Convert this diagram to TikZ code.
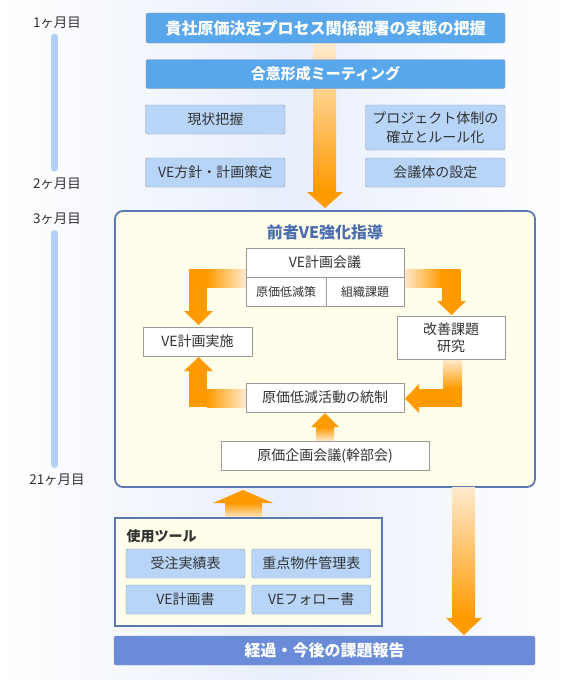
\documentclass[tikz,border=0pt]{standalone}
\usepackage{fontspec}
\setmainfont{Noto Sans CJK JP}
\usepackage{tikz}

\definecolor{bgblue}{HTML}{E8EEFB}
\definecolor{barblue}{HTML}{58A6EC}
\definecolor{reportblue}{HTML}{6A8CD8}
\definecolor{bargray}{HTML}{8E9BAE}
\definecolor{boxblue}{HTML}{B8D5F8}
\definecolor{timeblue}{HTML}{B4D0F6}
\definecolor{panelblue}{HTML}{5B78B0}
\definecolor{panelfill}{HTML}{FFFEEA}
\definecolor{titleblue}{HTML}{4D6EAE}
\definecolor{textgray}{HTML}{333333}
\definecolor{linegray}{HTML}{9A9A9A}
\definecolor{orangemain}{HTML}{FF9A00}
\definecolor{orangepale}{HTML}{FFEBCF}

\begin{document}
\begin{tikzpicture}[x=1pt,y=-1pt,
	barnode/.style={draw=bargray,fill=barblue,rounded corners=2pt,inner sep=0pt,text=white,font=\bfseries\fontsize{16pt}{19pt}\selectfont},
	stepnode/.style={draw=bargray,fill=boxblue,rounded corners=2pt,inner sep=0pt,text=textgray,align=center,font=\fontsize{14pt}{19pt}\selectfont,minimum width=139.5pt},
	cellnode/.style={draw=linegray,fill=white,inner sep=0pt,text=textgray,align=center,font=\fontsize{14pt}{17pt}\selectfont},
	panelnode/.style={draw=panelblue,line width=1.8pt,fill=panelfill,inner sep=0pt},
	month/.style={text=textgray,font=\fontsize{13.5pt}{16pt}\selectfont},
	timebar/.style={timeblue,line width=7pt,line cap=round}]

	%Background
	\shade[left color=white,right color=white,middle color=bgblue] (0,0) rectangle (567,680);
	\useasboundingbox (0,0) rectangle (567,680);

	%Timeline
	\draw[timebar] (54.7,37) -- (54.7,168);
	\draw[timebar] (54.7,233.5) -- (54.7,464.5);
	\node[month] (m1)  at (57,23)  {1ヶ月目};
	\node[month] (m2)  at (57,184) {2ヶ月目};
	\node[month] (m3)  at (57,219) {3ヶ月目};
	\node[month] (m21) at (57,480) {21ヶ月目};

	%Main arrow
	\shade[top color=orangepale,bottom color=orangemain] (313.5,43) rectangle (336,192);
	\fill[orangemain] (307,192) -- (343,192) -- (325,208) -- cycle;

	%Nodes
	\node[barnode,minimum width=359pt,minimum height=30pt] (survey) at (325.5,28) {貴社原価決定プロセス関係部署の実態の把握};
	\node[barnode,minimum width=359pt,minimum height=29pt,font=\bfseries\fontsize{15pt}{18pt}\selectfont] (meeting) at (325.5,74) {合意形成ミーティング};
	\node[stepnode,minimum height=29pt] (current) at (215.25,119.5) {現状把握};
	\node[stepnode,minimum height=29pt] (policy)  at (215.25,172.5) {VE方針・計画策定};
	\node[stepnode,minimum height=45pt] (project) at (435.25,127.5) {プロジェクト体制の\\確立とルール化};
	\node[stepnode,minimum height=29pt] (council) at (435.25,172.5) {会議体の設定};

	%Guidance panel
	\node[panelnode,rounded corners=8pt,minimum width=420pt,minimum height=276pt] (guide) at (325,349) {};
	\node[text=titleblue,font=\bfseries\fontsize{16pt}{19pt}\selectfont] (guidetitle) at (325,232) {前者VE強化指導};

	%Cycle arrows
	\shade[left color=orangemain,right color=orangepale] (207,269) rectangle (246,287);
	\fill[orangemain] (189,269) rectangle (207,311);
	\fill[orangemain] (184,311) -- (213,311) -- (198.5,325) -- cycle;

	\shade[left color=orangepale,right color=orangemain] (404,269) rectangle (442,287);
	\fill[orangemain] (442,269) rectangle (461,301);
	\fill[orangemain] (437,301) -- (466,301) -- (451.5,315) -- cycle;

	\shade[top color=orangepale,bottom color=orangemain] (443,359) rectangle (462,389);
	\fill[orangemain] (419,389) rectangle (462,407);
	\fill[orangemain] (419,384) -- (419,413) -- (405,398.5) -- cycle;

	\shade[left color=orangemain,right color=orangepale] (207,389) rectangle (246,407);
	\fill[orangemain] (189,371) rectangle (207,407);
	\fill[orangemain] (184,371) -- (213,371) -- (198.5,357) -- cycle;

	\shade[top color=orangemain,bottom color=orangepale] (316,427) rectangle (334,441);
	\fill[orangemain] (311,427) -- (339,427) -- (325,413) -- cycle;

	%Cycle boxes
	\node[cellnode,minimum width=158pt,minimum height=29pt] (plan) at (325,262.5) {VE計画会議};
	\node[cellnode,minimum width=80pt,minimum height=29pt,font=\fontsize{12pt}{14pt}\selectfont] (cost) at (286,291.5) {原価低減策};
	\node[cellnode,minimum width=78pt,minimum height=29pt,font=\fontsize{12pt}{14pt}\selectfont] (org) at (365,291.5) {組織課題};
	\node[cellnode,minimum width=109pt,minimum height=29pt] (execute) at (197.5,341.5) {VE計画実施};
	\node[cellnode,minimum width=108pt,minimum height=43pt] (study) at (451,337.5) {改善課題\\研究};
	\node[cellnode,minimum width=158pt,minimum height=29pt] (control) at (325,397.5) {原価低減活動の統制};
	\node[cellnode,minimum width=208pt,minimum height=29pt] (board) at (325,455.5) {原価企画会議(幹部会)};

	%Lower arrows
	\shade[top color=orangemain,bottom color=orangepale] (225,503) rectangle (262,518);
	\fill[orangemain] (213,503) -- (273,503) -- (243,490) -- cycle;
	\shade[top color=orangepale,bottom color=orangemain] (452,487) rectangle (475,618);
	\fill[orangemain] (446,618) -- (482,618) -- (464,635) -- cycle;

	%Tools
	\node[panelnode,minimum width=267pt,minimum height=108pt] (tools) at (248.5,572) {};
	\node[anchor=west,text=textgray,font=\bfseries\fontsize{14pt}{17pt}\selectfont] (toolstitle) at (123,536) {使用ツール};
	\node[stepnode,minimum width=119pt,minimum height=29pt] (orders) at (185.5,563.5) {受注実績表};
	\node[stepnode,minimum width=119pt,minimum height=29pt] (items)  at (311.25,563.5) {重点物件管理表};
	\node[stepnode,minimum width=119pt,minimum height=29pt] (vplan)  at (185.5,599.5) {VE計画書};
	\node[stepnode,minimum width=119pt,minimum height=29pt] (follow) at (311.25,599.5) {VEフォロー書};

	%Report
	\node[barnode,fill=reportblue,minimum width=421pt,minimum height=29pt] (report) at (324.5,650.5) {経過・今後の課題報告};

\end{tikzpicture}
\end{document}
